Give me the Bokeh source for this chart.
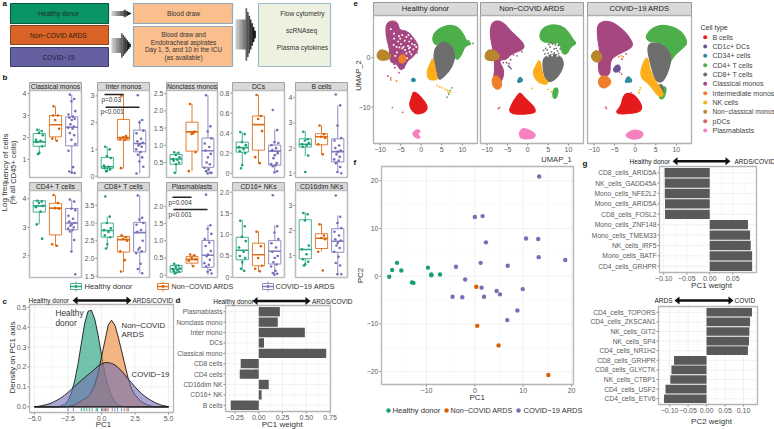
from bokeh.plotting import figure
from bokeh.models import Range1d
from bokeh.embed import file_html
from bokeh.resources import INLINE
from bokeh.core.properties import value

FONT = "Liberation Sans"
GREEN, ORANGE, PURPLE = "#1B9E77", "#D95F02", "#7570B3"
GROUPS = [GREEN, ORANGE, PURPLE]

# ---------- panel b data: each box = [low whisker, q1, median, q3, high whisker]
classical_box = [[1.23, 1.6, 1.8, 2.18, 2.4], [1.85, 2.03, 2.58, 3.0, 3.42], [0.37, 1.62, 2.47, 2.94, 3.95]]
classical_pts = [[2.35, 2.3, 2.2, 2.1, 1.9, 1.85, 1.8, 1.6, 1.3, 1.25], [3.42, 3.0, 2.8, 2.4, 1.95, 1.85, 3.0],
                 [3.95, 3.75, 3.65, 3.2, 3.05, 2.95, 2.9, 2.85, 2.8, 2.6, 2.5, 2.45, 2.4, 2.2, 2.1, 1.9, 1.7, 1.4, 0.65, 0.45, 0.38, 0.4]]
inter_box = [[0.16, 0.29, 0.35, 0.7, 1.1], [0.29, 1.35, 1.44, 2.12, 3.07], [0.1, 0.91, 1.22, 1.72, 2.1]]
inter_pts = [[1.1, 1.0, 0.75, 0.68, 0.4, 0.35, 0.3, 0.25, 0.2, 0.18], [3.0, 1.5, 1.45, 1.42, 1.38, 1.36, 0.3],
             [3.02, 2.1, 2.0, 1.7, 1.6, 1.4, 1.3, 1.25, 1.2, 1.15, 1.1, 1.0, 0.9, 0.8, 0.7, 0.55, 0.35, 0.1]]
nonclass_box = [[0.2, 0.45, 0.6, 0.73, 0.8], [0.25, 0.83, 1.39, 1.67, 2.2], [0.18, 0.36, 0.84, 1.21, 2.45]]
nonclass_pts = [[0.8, 0.78, 0.72, 0.65, 0.6, 0.58, 0.55, 0.5, 0.45, 0.2], [2.2, 1.4, 1.33, 0.8, 0.25, 1.35],
                [2.45, 1.55, 1.4, 1.2, 1.05, 0.95, 0.85, 0.75, 0.65, 0.5, 0.45, 0.35, 0.3, 0.25, 0.2, 0.18, 0.2]]
dc_box = [[0.08, 0.21, 0.255, 0.31, 0.41], [0.1, 0.23, 0.485, 0.57, 0.78], [0.0, 0.08, 0.22, 0.28, 0.435]]
dc_pts = [[0.41, 0.39, 0.31, 0.28, 0.26, 0.24, 0.22, 0.2, 0.08, 0.05], [0.78, 0.57, 0.54, 0.42, 0.16, 0.1],
          [0.63, 0.43, 0.31, 0.3, 0.28, 0.25, 0.23, 0.2, 0.18, 0.15, 0.1, 0.09, 0.08, 0.07, 0.02, 0.01]]
bcell_box = [[1.68, 2.04, 2.15, 2.37, 2.67], [1.75, 2.13, 2.45, 2.57, 2.9], [1.0, 1.45, 1.86, 2.37, 3.7]]
bcell_pts = [[2.65, 2.35, 2.3, 2.2, 2.15, 2.1, 2.05, 1.7, 1.05], [2.9, 2.55, 2.45, 2.4, 2.15, 1.75],
             [4.13, 3.7, 2.9, 2.4, 2.3, 2.1, 2.0, 1.9, 1.85, 1.75, 1.65, 1.55, 1.5, 1.4, 1.25, 1.05, 1.0]]
cd4_box = [[3.1, 3.53, 3.75, 3.93, 3.93], [2.33, 2.73, 3.67, 3.84, 4.13], [2.15, 2.91, 3.15, 3.66, 3.97]]
cd4_pts = [[3.93, 3.9, 3.85, 3.75, 3.7, 3.55, 3.1, 2.6], [4.13, 3.85, 3.67, 3.65, 2.4, 2.35],
           [3.97, 3.9, 3.65, 3.6, 3.4, 3.3, 3.2, 3.15, 3.1, 3.05, 3.0, 2.95, 2.9, 2.85, 2.55, 2.15, 1.35]]
cd8_box = [[2.28, 2.6, 2.79, 3.0, 3.18], [1.62, 2.18, 2.53, 2.62, 2.65], [1.58, 2.18, 2.73, 3.02, 3.78]]
cd8_pts = [[3.75, 3.18, 3.0, 2.85, 2.8, 2.75, 2.65, 2.6, 2.4, 2.28], [2.65, 2.6, 2.55, 2.5, 2.2, 1.95, 1.63],
           [3.78, 3.15, 3.1, 3.0, 2.95, 2.8, 2.75, 2.5, 2.3, 2.25, 2.2, 2.15, 1.85, 1.7, 1.58]]
plasma_box = [[0.04, 0.09, 0.18, 0.28, 0.33], [0.26, 0.35, 0.46, 0.54, 0.6], [0.0, 0.23, 0.58, 1.01, 1.45]]
plasma_pts = [[0.33, 0.28, 0.24, 0.2, 0.18, 0.15, 0.12, 0.1, 0.07, 0.05], [0.6, 0.58, 0.5, 0.46, 0.42, 0.26],
              [2.34, 1.45, 1.35, 1.2, 1.05, 0.95, 0.85, 0.7, 0.6, 0.55, 0.45, 0.35, 0.3, 0.25, 0.15, 0.1, 0.05]]
cd16_box = [[0.16, 0.41, 0.635, 0.94, 1.35], [0.13, 0.27, 0.53, 0.8, 1.08], [0.05, 0.31, 0.61, 0.86, 1.22]]
cd16_pts = [[1.33, 1.2, 0.95, 0.85, 0.7, 0.6, 0.5, 0.45, 0.35, 0.2, 0.15], [1.07, 0.73, 0.45, 0.27, 0.2, 0.14],
            [1.93, 1.2, 1.05, 0.9, 0.8, 0.7, 0.6, 0.5, 0.45, 0.35, 0.3, 0.25, 0.15, 0.1, 0.08, 0.06]]
cd16dim_box = [[0.57, 0.87, 1.24, 2.43, 2.73], [1.16, 1.28, 1.69, 1.87, 2.27], [0.23, 1.13, 1.57, 2.07, 2.6]]
cd16dim_pts = [[2.7, 2.65, 2.4, 1.4, 1.25, 1.05, 0.85, 0.75, 0.65, 0.6], [2.25, 1.8, 1.7, 1.65, 1.15, 0.4],
               [3.4, 2.55, 2.3, 2.1, 1.95, 1.8, 1.65, 1.6, 1.5, 1.4, 1.3, 1.15, 0.95, 0.7, 0.6, 0.25, 0.25]]
JITTER = [-0.12, 0.15, -0.02, 0.22, -0.2, 0.08, -0.15, 0.18, 0.0, -0.08, 0.12, -0.22, 0.05]

# ---------- panel c data
pc1_grid = [-5 + 0.25 * i for i in range(41)]
dens_healthy = [0] * 8 + [0.005, 0.012, 0.03, 0.07, 0.13, 0.215, 0.32, 0.42, 0.48, 0.485, 0.44, 0.36, 0.26, 0.17, 0.1, 0.055,
                          0.025, 0.01, 0.004, 0.001] + [0] * 13
dens_noncovid = [0] * 10 + [0.002, 0.005, 0.01, 0.02, 0.03, 0.04, 0.05, 0.075, 0.11, 0.17, 0.25, 0.33, 0.41, 0.435, 0.41, 0.35,
                            0.28, 0.21, 0.14, 0.09, 0.06, 0.04, 0.025, 0.015, 0.008, 0.003] + [0] * 5
dens_covid = [0.001, 0.002, 0.005, 0.009, 0.013, 0.019, 0.027, 0.036, 0.046, 0.058, 0.072, 0.088, 0.103, 0.118, 0.133, 0.147,
              0.161, 0.175, 0.19, 0.205, 0.215, 0.222, 0.222, 0.218, 0.21, 0.197, 0.18, 0.16, 0.14, 0.12, 0.1, 0.082, 0.066,
              0.052, 0.04, 0.03, 0.021, 0.014, 0.008, 0.004, 0.001]
rug_healthy = [-1.5, -1.3, -1.1, -0.9, -0.4, -0.3, 0.0]
rug_noncovid = [0.3, 0.5, 1.9]
rug_covid = [-2.5, -2.1, -0.7, 0.1, 0.2, 0.4, 0.8, 1.0, 1.2, 1.5, 1.7, 2.0]

# ---------- panel d data
d_labels = ["Plasmablasts", "Nonclass mono", "Inter mono", "DCs", "Classical mono", "CD8 cells", "CD4 cells", "CD16dim NK", "CD16+ NK", "B cells"]
d_values = [0.222, 0.2, 0.485, 0.055, 0.71, -0.19, -0.2, 0.105, 0.03, -0.295]

# ---------- panel e data: cluster outlines in UMAP coordinates, one list per cell type and donor group
CELL_TYPES = ["B cells", "CD1c+ DCs", "CD34+ cells", "CD4+ T cells", "CD8+ T cells", "Classical monos", "Intermediate monos",
              "NK cells", "Non\u2212classical monos", "pDCs", "Plasmablasts"]
CELL_COLORS = ["#E41A1C", "#6F5192", "#2F8AA0", "#4DAF4A", "#6E6E6E", "#A6487F", "#F07F2A", "#FDAE1A", "#B8862B", "#D9626B", "#F781BF"]
h_classical = [(-8.6, 7), (-6.6, 7.6), (-5.6, 6.8), (-5.3, 5.6), (-3.3, 5.4), (-1.2, 3.3), (-0.6, 1.8), (-2.1, 0.1), (-3.3, -0.5), (-4.1, -1.9), (-5, -2.6), (-5.9, -1.2), (-7.6, -0.9), (-7.6, 1.5), (-8.5, 4.2)]
h_nonclass = [(-10.9, 0.5), (-10, 1.7), (-8.6, 1.4), (-7.2, 0.5), (-8.2, -0.5), (-10.2, -0.5)]
h_inter = [(-5.5, 0), (-4.6, 0.8), (-3.5, 0), (-4.1, -1.1), (-5.3, -1)]
h_cd4 = [(2.6, 4), (3.8, 5.7), (6.7, 6.7), (8.9, 6.3), (10.4, 4.6), (10.9, 3.5), (12.4, 2.8), (10.6, 2.4), (9.8, 0.5), (8.4, -0.7), (7.9, 2.2), (6.3, 3.2), (4.7, 3.2), (3.4, 2.5)]
h_cd8 = [(3.4, 2.2), (5.5, 3.4), (7.6, 2.3), (8.3, 0.1), (7.2, -2.3), (5.2, -4.1), (4.2, -4.5), (3.7, -2.6), (3.0, -0.2)]
h_nk = [(2.9, 0.2), (3.7, -3.6), (4, -4.5), (1.8, -4.5), (1.3, -2.9), (2.2, -1.2)]
h_bcell = [(-1.9, -6.8), (-0.5, -7.5), (1.8, -10), (0.7, -11.2), (-1.5, -11.5), (-3, -9.7), (-2.3, -8)]
h_plasma = [(-2.3, -15.4), (-1, -14.5), (-0.1, -14.9), (-1, -15.4), (-0.1, -16.3), (-1.2, -16.3)]
h_cd34 = [(-2.4, -4.3), (-1.7, -4.1), (-1.3, -4.7), (-2.2, -4.9)]
n_classical = [(-8.9, 7), (-7.5, 7.6), (-5.8, 7), (-4.2, 5.4), (-0.9, 2.9), (-1, 1.7), (-4.3, 0.7), (-5.1, -0.3), (-7.3, -0.5), (-5.7, -2.6), (-6.5, -5.2), (-8.5, -4.3), (-8, -2.2), (-8.5, 1.5), (-9.3, 4.9)]
n_nonclass = [(-10.6, 0.5), (-9.7, 1.7), (-7.8, 1.4), (-6.7, 0.1), (-8.2, -0.6), (-10.2, -0.5)]
n_inter = [(-8.9, -4.3), (-7.5, -3.4), (-6.2, -5.3), (-7, -6.5), (-8.4, -6.1)]
n_cd4 = [(2.8, 4.1), (3.5, 6), (6, 6.8), (8.6, 6.4), (10.2, 5), (11.1, 3.7), (12, 2.9), (10.6, 2.3), (9.6, 0.7), (8.5, 0.8), (8, 2.8), (6, 3), (4, 3.1)]
n_cd8 = [(3.8, 0.2), (7, 0.9), (8.9, -0.5), (8.4, -2.7), (6.3, -4.8), (4.5, -4.8), (3.7, -2.2)]
n_nk = [(3, -0.1), (3.7, -3.9), (5.2, -5), (4.2, -5.5), (2.1, -4.7), (1.2, -2.9), (2.1, -1.5)]
n_bcell = [(-1.9, -7), (-1, -7.9), (2, -10.3), (1.6, -11.4), (-4.9, -11.5), (-3.7, -9), (-2.8, -8)]
n_plasma = [(-1.5, -14.5), (-0.6, -14.3), (2, -15.4), (1.5, -16.4), (-1.6, -16.5), (-2.2, -15.4)]
n_cd34 = [(-2.5, -4.6), (-1.8, -3.8), (-1.1, -4.7), (-2.4, -5.1)]
n_lowcd4 = [(6.3, -6.2), (7.6, -6.1), (7.1, -8.3), (6.1, -8.1)]
c_classical = [(-9.2, 7), (-6.2, 7.6), (-2.8, 5.6), (-0.7, 3.3), (-0.7, 2.1), (-4.1, 0.7), (-6.1, -0.3), (-6.1, -3.7), (-8.7, -3.7), (-9, -1.2), (-8.5, 0.8), (-9.2, 4.2)]
c_nonclass = [(-11, 0.3), (-9.4, 1.8), (-7.7, 0.1), (-9.4, -1.2)]
c_inter = [(-9, -4.3), (-7.4, -3.4), (-5.5, -4.9), (-7.4, -6.3), (-8.8, -5.7)]
c_cd1c = [(-5.4, -2.2), (-4.1, -1.2), (-3.4, -2.4), (-4.9, -3.1)]
c_cd34 = [(-2.4, -4.7), (-1.7, -3.6), (-0.5, -4.9), (-2.4, -5)]
c_cd4 = [(2.4, 4.2), (4, 6), (6.8, 6.8), (11, 5.7), (12.8, 3.2), (11.8, 2.1), (9.3, 0.4), (6.9, -3.3), (7.6, 1.5), (5.6, 3.2), (3.6, 3.2)]
c_cd8 = [(2.7, 2.8), (5.6, 3.1), (7.7, 1.9), (9, -0.2), (7.1, -4.8), (5.1, -5), (3.9, -1.9)]
c_nk = [(3, 0.6), (3.7, -3.2), (6.5, -6.6), (6.9, -7.8), (5.5, -7.8), (3.5, -5.4), (1.3, -4), (1.5, -1.9)]
c_lowcd4 = [(6.8, -5.7), (7.7, -6.2), (6.9, -8.5), (5.6, -8.1)]
c_lowcd8 = [(5.5, -5.5), (6.9, -5.5), (6.7, -7.7), (5.1, -6.4)]
c_bcell = [(-2.1, -7.1), (-0.1, -7.5), (1.9, -10), (0.8, -11.2), (-5.1, -11.5), (-3.4, -9.7), (-3, -8)]
c_plasma = [(-2.2, -15.4), (-0.1, -14.5), (2.1, -15.2), (1.5, -16.3), (-0.5, -16.6), (-2.2, -16)]
# stray cells
h_stray = {3: [(10.9, 3.2), (11.6, 3.4), (6.3, -8), (7, -6.6), (7.5, -6.1), (6.7, -7.4), (12.6, 2.9), (9.6, 4.9)],
           7: [(3.9, -5.6), (5.1, -6.1), (6.3, -6.6), (7.1, -7), (4.5, -5.9), (5.8, -6.4), (6.6, -7)],
           6: [(-7.4, -4.5), (-6, -4.7), (-6.4, 7.4), (-4.4, -0.3)], 1: [(-4.6, -1.6), (-4.2, -2), (-5, -1.4), (-3.9, -1.2)],
           5: [(-8.1, -3.7), (-6.4, -2), (-1, 1), (-6.6, -1.3), (-5.4, -3), (-7.3, 3.6)], 9: [(-7, -10.1), (-4.5, -11.1), (-7.4, -4.1)]}
n_stray = {7: [(1.1, -6.2), (5, -6.4), (5.8, -6.9)], 9: [(-6.9, -10.1), (-7.2, -10.3)], 1: [(-4.4, -1.9), (-4.1, -2.2), (-4.7, -1.7)],
           5: [(-3.5, 0.6), (-2.6, 0.4), (-6, -1), (-1.4, 1.2), (-4.2, -0.4), (-5.2, -1), (-4.6, -1.2)],
           4: [(5.5, 2.2), (6.5, 1.8), (4.8, 1.6), (7.3, 1.4), (6.1, 2.8), (5, 0.9), (7.6, 0.9), (4.2, 0.8), (6.8, 2.6), (8, 1.8), (5.8, 1.2), (4.4, 1.9), (7, 1.9), (5.2, 2.7), (3.9, 1.5), (6.5, 1), (5.7, 3.1), (7.5, 2.5)]}
c_stray = {7: [(1.1, -6.6), (0.9, -7.1), (1.3, -6.1)], 9: [(-7.2, -10), (-7, -10.3), (-1, -7.1)], 6: [(-3.4, 0.4), (-4, 0.2), (-2.9, 0.2)], 5: [(-2.2, 0.8), (-3.2, -0.3), (-3.8, -2.9), (-3.3, -3.3)]}
h_holes = [(-7.4, 5.8), (-6.6, 4.9), (-5.4, 4.4), (-4.6, 4.6), (-3.6, 4.2), (-2.9, 3.3), (-2.2, 2.8), (-4, 3.5), (-5.6, 3.3), (-6.7, 2.6), (-3.2, 2.4), (-1.9, 1.7), (-4.6, 1.9), (-2.8, 1.2), (-5.9, 1.1), (-3.6, 0.9), (-6.6, 3.9), (-4.9, 2.8), (-2.4, 3.9), (-3.9, 1.6),
           (-3.1, 4.6), (-1.6, 2.6), (-2.4, 0.7), (-3.4, -0.1), (-5.1, 3.9), (-4.3, 2.2), (-1.2, 2.2), (-5.3, 2.1), (-3, 1.9), (-6, 2.2), (-6.3, 0.4), (-2.7, 2.1)]
n_holes = [(4.6, 2.9), (5.3, 2.6), (6.4, 2.2), (7.2, 2.8), (4, 2.1), (5.8, 1.4), (6.9, 1.2), (7.7, 2.2), (4.4, 1.3), (5.2, 1.9), (6, 0.5), (7.3, 0.4), (4.9, 0.4)]

# ---------- panel f data
f_healthy_x = [-17.7, -17.1, -16.1, -15.2, -13, -12.7, -9.7, -9, -9, -7.2]
f_healthy_y = [-0.1, 1.3, 2.8, 1.2, -1.3, -1.4, 1.8, 0.2, 0.35, 0.35]
f_noncovid_x = [0.3, 0.5, 4.9, 15.2]
f_noncovid_y = [-2.2, -10.4, -14.5, -20.7]
f_covid_x = [13.3, 0, 1.6, 10.6, 13.1, 2.3, 13.2, 18.7, 1.2, 6.8, -3.9, -2, 1.4, 4.5, 5.2, 9.9, -4.6, -2.6, 1.9, 8.8, 6.7]
f_covid_y = [20.9, 12.4, 12.6, 7.9, 7.8, 7.1, 4, 3.4, 2.8, 2.2, 2, -0.7, -2.4, -3.1, -3.8, -2.7, -4.3, -4.4, -4.3, -7.2, -9.2]

# ---------- panel g data
g1_labels = ["CD8_cells_ARID5A", "NK_cells_GADD45A", "Mono_cells_NFE2L2", "Mono_cells_ARID5A", "CD8_cells_FOSL2", "Mono_cells_ZNF148", "Mono_cells_TMEM33", "NK_cells_IRF5", "Mono_cells_BATF", "CD4_cells_GRHPR"]
g1_values = [-0.098, -0.0975, -0.0975, -0.097, -0.097, 0.083, 0.0875, 0.089, 0.092, 0.092]
g2_labels = ["CD4_cells_TOPORS", "CD4_cells_ZKSCAN1", "NK_cells_GIT2", "NK_cells_SP4", "CD4_cells_NR1H2", "CD8_cells_GRHPR", "CD8_cells_GLYCTK", "NK_cells_CTBP1", "CD4_cells_USF2", "CD4_cells_ETV6"]
g2_values = [0.123, 0.118, 0.116, 0.115, 0.112, -0.088, -0.095, -0.098, -0.111, -0.115]

# ---------- one sheet: the base scales are page pixels, every panel adds its own named scales
W, H = 774, 429
bg = figure(width=W, height=H, x_range=Range1d(0, W), y_range=Range1d(H, 0), toolbar_location=None,
            x_axis_location=None, y_axis_location=None, output_backend="svg", min_border=0,
            outline_line_color=None, background_fill_color=None, border_fill_color="white", margin=(0, 0, 0, 0))
bg.grid.visible = False

_count = [0]


def rounded(poly, rounds=2):
    """Cut the corners of a read-off outline so that blobs look round."""
    for _ in range(rounds):
        out = []
        for k in range(len(poly)):
            (a, b), (c, d) = poly[k], poly[(k + 1) % len(poly)]
            out += [(0.75 * a + 0.25 * c, 0.75 * b + 0.25 * d), (0.25 * a + 0.75 * c, 0.25 * b + 0.75 * d)]
        poly = out
    return poly


class Panel:
    """A rectangle of the sheet with its own x and y scales (extra ranges of the figure)."""

    def __init__(self, x0, y0, x1, y1, xr, yr):
        self.x0, self.y0, self.x1, self.y1 = x0, y0, x1, y1
        self.xr, self.yr = xr, yr
        _count[0] += 1
        self.xn, self.yn = f"x{_count[0]}", f"y{_count[0]}"
        sx = (xr[1] - xr[0]) / (x1 - x0)
        sy = (yr[1] - yr[0]) / (y1 - y0)
        bg.extra_x_ranges[self.xn] = Range1d(xr[0] - x0 * sx, xr[1] + (W - x1) * sx)
        bg.extra_y_ranges[self.yn] = Range1d(yr[0] - (H - y1) * sy, yr[1] + y0 * sy)
        self.kw = {"x_range_name": self.xn, "y_range_name": self.yn}

    def frame(self, color="#B5B5B5", lw=1.3):
        bg.quad(left=[self.x0], right=[self.x1], top=[self.y0], bottom=[self.y1], fill_color=None, line_color=color, line_width=lw)

    def grid(self, xt=(), yt=(), xm=(), ym=()):
        for ticks, col, w in [(xm, "#F3F3F3", 0.5), (xt, "#EBEBEB", 0.7)]:
            if len(ticks):
                bg.segment(x0=list(ticks), x1=list(ticks), y0=[self.yr[0]] * len(ticks), y1=[self.yr[1]] * len(ticks), line_color=col, line_width=w, **self.kw)
        for ticks, col, w in [(ym, "#F3F3F3", 0.5), (yt, "#EBEBEB", 0.7)]:
            if len(ticks):
                bg.segment(y0=list(ticks), y1=list(ticks), x0=[self.xr[0]] * len(ticks), x1=[self.xr[1]] * len(ticks), line_color=col, line_width=w, **self.kw)

    def xaxis(self, ticks, labels, size=7):
        n = len(ticks)
        bg.segment(x0=ticks, x1=ticks, y0=[self.y1] * n, y1=[self.y1 + 2] * n, line_color="#444444", line_width=0.7, x_range_name=self.xn)
        bg.text(x=ticks, y=[self.y1 + 3] * n, text=labels, text_font=value(FONT), text_font_size=f"{size}px", text_color="#5A5A5A",
                text_align="center", text_baseline="top", x_range_name=self.xn)

    def yaxis(self, ticks, labels, size=7):
        n = len(ticks)
        bg.segment(y0=ticks, y1=ticks, x0=[self.x0] * n, x1=[self.x0 - 2] * n, line_color="#444444", line_width=0.7, y_range_name=self.yn)
        bg.text(y=ticks, x=[self.x0 - 3] * n, text=labels, text_font=value(FONT), text_font_size=f"{size}px", text_color="#5A5A5A",
                text_align="right", text_baseline="middle", y_range_name=self.yn)


def txt(x, y, s, size=7, color="#333333", align="left", angle=0, weight="normal"):
    bg.text(x=[x], y=[y], text=[s], text_font=value(FONT), text_font_size=f"{size}px", text_color=color,
            text_align=align, text_baseline="middle", angle=angle, text_font_style=weight)


def box(x0, y0, x1, y1, fill, line, lw=1.0):
    bg.quad(left=[x0], right=[x1], top=[y0], bottom=[y1], fill_color=fill, line_color=line, line_width=lw)


def grad_arrow(x0, x1, xh, yc, shaft, head):
    n = 14
    for i in range(n):
        a = x0 + (x1 - x0) * i / n
        b = x0 + (x1 - x0) * (i + 1) / n + 0.3
        g = int(205 - 195 * i / (n - 1))
        col = f"#{g:02x}{g:02x}{g:02x}"
        if a < xh:
            h = shaft
        else:
            h = head * (x1 - a) / (x1 - xh)
        bg.quad(left=[a], right=[b], top=[yc - h], bottom=[yc + h], fill_color=col, line_color=None)


def dbl_arrow(x0, x1, y):
    bg.quad(left=[x0 + 3], right=[x1 - 3], top=[y - 1.3], bottom=[y + 1.3], fill_color="#111111", line_color=None)
    bg.patch(x=[x0, x0 + 5, x0 + 5], y=[y, y - 4, y + 4], fill_color="#111111", line_color=None)
    bg.patch(x=[x1, x1 - 5, x1 - 5], y=[y, y - 4, y + 4], fill_color="#111111", line_color=None)


# panel a
box(10, 3, 108, 23, "#0B9468", "#0A5C40", 1.2)
box(10, 25, 108, 44, "#DA6427", "#8A4420", 1.0)
box(10, 47, 108, 66, "#65609F", "#3F3C6E", 1.0)
box(133, 3, 232, 23, "#FBBE8D", "#8FA9BE", 1.2)
box(133, 26, 232, 66, "#FBBE8D", "#8FA9BE", 1.2)
box(258, 3, 330, 66, "#EEF1E0", "#9DB9C8", 1.2)
grad_arrow(111, 130, 122, 13, 2.6, 4.5)
grad_arrow(111, 130, 120, 45, 7.5, 13)
grad_arrow(235, 255, 244, 34, 15, 29)
txt(58, 12.7, "Healthy donor", 6.6, "#1E2B24", "center")
txt(58, 35, "Non\u2212COVID ARDS", 6.6, "#2A1A10", "center")
txt(58, 57, "COVID\u221219", 6.6, "#1E1C3A", "center")
txt(183, 12.7, "Blood draw", 6.6, "#333333", "center")
for yy, s in zip([33.7, 41.5, 49.3, 57.3], ["Blood draw and", "Endotracheal aspirates", "Day 1, 5, and 10 in the ICU", "(as available)"]):
    txt(183, yy, s, 6.4, "#333333", "center")
txt(302, 12.7, "Flow cytometry", 6.6, "#333333", "center")
txt(301, 30, "scRNAseq", 6.6, "#333333", "center")
txt(302, 47, "Plasma cytokines", 6.6, "#333333", "center")

for lx, ly, s in [(2, 3, "a"), (2, 77, "b"), (2, 301, "c"), (175, 300, "d"), (353, 3, "e"), (353, 162, "f"), (582, 163, "g")]:
    txt(lx, ly, s, 8, "#111111", "left", 0, "bold")


def facet(title, x0, y0, x1, y1, yr, yticks, ylabels, boxes, pts):
    bg.quad(left=[x0], right=[x1], top=[y0 - 8], bottom=[y0], fill_color="#D9D9D9", line_color="#9A9A9A", line_width=0.9)
    txt((x0 + x1) / 2, y0 - 3.8, title, 6.8, "#222222", "center")
    p = Panel(x0, y0, x1, y1, (0.4, 3.6), yr)
    p.yaxis(yticks, ylabels)
    for i, (b, col) in enumerate(zip(boxes, GROUPS)):
        c = i + 1
        bg.segment(x0=[c, c], x1=[c, c], y0=[b[0], b[3]], y1=[b[1], b[4]], line_color=col, line_alpha=0.8, line_width=1, **p.kw)
        bg.quad(left=[c - 0.375], right=[c + 0.375], bottom=[b[1]], top=[b[3]], fill_color=None, line_color=col, line_alpha=0.8, line_width=1, **p.kw)
        bg.segment(x0=[c - 0.375], x1=[c + 0.375], y0=[b[2]], y1=[b[2]], line_color=col, line_width=1.6, line_alpha=0.9, **p.kw)
        ys = pts[i]
        xs = [c + JITTER[k % len(JITTER)] for k in range(len(ys))]
        bg.scatter(xs, ys, size=2.6, color=col, line_color=None, **p.kw)
    p.frame("#BDBDBD", 1.6)


row1y = (90, 177)
row2y = (190, 277)
c1, c2, c3, c4, c5 = (29, 81), (97, 149), (166, 217), (232, 284), (295, 347)
facet("Classical monos", c1[0], row1y[0], c1[1], row1y[1], (0.18, 4.14), [1, 2, 3, 4], ["1", "2", "3", "4"], classical_box, classical_pts)
facet("Inter monos", c2[0], row1y[0], c2[1], row1y[1], (-0.05, 3.2), [0, 1, 2, 3], ["0", "1", "2", "3"], inter_box, inter_pts)
facet("Nonclass monos", c3[0], row1y[0], c3[1], row1y[1], (0.065, 2.59), [0.5, 1, 1.5, 2, 2.5], ["0.5", "1.0", "1.5", "2.0", "2.5"], nonclass_box, nonclass_pts)
facet("DCs", c4[0], row1y[0], c4[1], row1y[1], (-0.043, 0.825), [0, 0.2, 0.4, 0.6, 0.8], ["0", "0.2", "0.4", "0.6", "0.8"], dc_box, dc_pts)
facet("B cells", c5[0], row1y[0], c5[1], row1y[1], (0.83, 4.29), [1, 2, 3, 4], ["1", "2", "3", "4"], bcell_box, bcell_pts)
facet("CD4+ T cells", c1[0], row2y[0], c1[1], row2y[1], (1.235, 4.29), [2, 3, 4], ["2", "3", "4"], cd4_box, cd4_pts)
facet("CD8+ T cells", c2[0], row2y[0], c2[1], row2y[1], (1.46, 3.92), [1.5, 2, 2.5, 3, 3.5], ["1.5", "2.0", "2.5", "3.0", "3.5"], cd8_box, cd8_pts)
facet("Plasmablasts", c3[0], row2y[0], c3[1], row2y[1], (-0.067, 2.46), [0, 0.5, 1, 1.5, 2], ["0", "0.5", "1.0", "1.5", "2.0"], plasma_box, plasma_pts)
facet("CD16+ NKs", c4[0], row2y[0], c4[1], row2y[1], (-0.007, 2.04), [0, 0.5, 1, 1.5, 2], ["0", "0.5", "1.0", "1.5", "2.0"], cd16_box, cd16_pts)
facet("CD16dim NKs", c5[0], row2y[0], c5[1], row2y[1], (0.12, 3.6), [1, 2, 3], ["1", "2", "3"], cd16dim_box, cd16dim_pts)

ANGLE = 1.5707963
txt(4.5, 172, "Log frequency of cells", 8, "#333333", "center", ANGLE)
txt(12.5, 172, "(% all CD45+ cells)", 7.5, "#333333", "center", ANGLE)
# p-value brackets
for x0_, x1_, y_, lab, tx, ty in [(104, 123, 94, "p=0.03", 101, 99), (105, 139, 106.7, "p<0.001", 100, 111),
                                  (172, 191, 196.7, "p=0.004", 168, 201.7), (173, 207, 209, "p<0.001", 168, 214)]:
    bg.segment(x0=[x0_], x1=[x1_], y0=[y_], y1=[y_], line_color="#222222", line_width=1.4)
    txt(tx, ty, lab, 6.4, "#333333")
# shared legend of panel b
for kx, col, tx, s, sz in [(70, GREEN, 84, "Healthy donor", 7.7), (157, ORANGE, 171, "Non\u2212COVID ARDS", 7.2), (262, PURPLE, 275, "COVID\u221219 ARDS", 7.5)]:
    bg.segment(x0=[kx + 5.5], x1=[kx + 5.5], y0=[281], y1=[291], line_color=col, line_alpha=0.8, line_width=1)
    bg.quad(left=[kx], right=[kx + 11], top=[283], bottom=[289], fill_color="white", line_color=col, line_alpha=0.8, line_width=1)
    bg.segment(x0=[kx], x1=[kx + 11], y0=[286], y1=[286], line_color=col, line_width=1.4, line_alpha=0.9)
    bg.scatter([kx + 5.5], [286], size=2.8, color=col, line_color=None)
    txt(tx, 286, s, sz, "#333333")

# panel c
c_tx = [-5, -2.5, 0, 2.5, 5]
c_ty = [0, 0.1, 0.2, 0.3, 0.4, 0.5]
pc = Panel(29, 304, 173, 412, (-5.37, 5.37), (-0.0286, 0.514))
pc.grid(c_tx, c_ty, [-3.75, -1.25, 1.25, 3.75], [0.05, 0.15, 0.25, 0.35, 0.45])
pc.xaxis(c_tx, ["\u22125.0", "\u22122.5", "0.0", "2.5", "5.0"])
pc.yaxis(c_ty, ["0.0", "0.1", "0.2", "0.3", "0.4", "0.5"])
for dens, col, alpha in [(dens_healthy, GREEN, 0.62), (dens_noncovid, "#E8802A", 0.58), (dens_covid, PURPLE, 0.62)]:
    bg.patch(pc1_grid + [5, -5], dens + [0, 0], fill_color=col, fill_alpha=alpha, line_color="#1A1A1A", line_width=0.9, **pc.kw)
for rug, col in [(rug_healthy, GREEN), (rug_noncovid, ORANGE), (rug_covid, PURPLE)]:
    bg.segment(x0=rug, x1=rug, y0=[-0.022] * len(rug), y1=[-0.007] * len(rug), line_color=col, line_width=0.9, **pc.kw)
pc.frame()
txt(55, 312, "Healthy", 8.3)
txt(55, 322, "donor", 8.3)
txt(121, 325, "Non\u2212COVID", 7.8)
txt(121, 333.5, "ARDS", 8)
txt(131, 374, "COVID\u221219", 7.8)
txt(12, 357, "Density on PC1 axis", 8, "#333333", "center", ANGLE)
txt(103, 424, "PC1", 8, "#333333", "center")
txt(28, 300, "Healthy donor", 6.5, "#222222")
dbl_arrow(72, 131, 300)
txt(132, 300, "ARDS/COVID", 6.5, "#222222")


def bars(x0, y0, x1, y1, xr, labels, vals, xticks, xlabels, x_minor):
    p = Panel(x0, y0, x1, y1, xr, (10.6, 0.4))
    pos = list(range(1, len(labels) + 1))
    p.grid(xticks, pos, x_minor)
    p.xaxis(xticks, xlabels)
    p.yaxis(pos, labels, 6.7)
    bg.hbar(y=pos, right=vals, left=0, height=0.9, fill_color="#595959", line_color=None, **p.kw)
    p.frame()


# panel d
bars(225, 305, 330, 411, (-0.35, 0.755), d_labels, d_values, [-0.25, 0, 0.25, 0.5, 0.75], ["\u22120.25", "0.00", "0.25", "0.50", "0.75"],
     [-0.125, 0.125, 0.375, 0.625])
txt(281.7, 424, "PC1 weight", 8, "#333333", "center")
txt(212.7, 300.5, "Healthy donor", 6.5, "#222222")
dbl_arrow(252, 310, 300.5)
txt(311.5, 300.5, "ARDS/COVID", 6.5, "#222222")


# panel e
def umap(title, x0, x1, outlines, stray, holes, first):
    bg.quad(left=[x0], right=[x1], top=[2], bottom=[15], fill_color="#D9D9D9", line_color="#9A9A9A", line_width=1)
    txt((x0 + x1) / 2, 8.3, title, 7.6, "#222222", "center")
    p = Panel(x0, 15, x1, 143, (-11.6, 13.7), (-17.4, 8.58))
    p.xaxis([-10, -5, 0, 5, 10], ["\u221210", "\u22125", "0", "5", "10"])
    if first:
        p.yaxis([0, -10], ["0", "\u221210"])
    for idx, poly in outlines:
        shape = rounded(poly)
        bg.patch([a for a, _ in shape], [b for _, b in shape], fill_color=CELL_COLORS[idx], line_color=CELL_COLORS[idx], line_width=1.2, **p.kw)
    if holes:
        bg.scatter([a for a, _ in holes], [b for _, b in holes], size=1.7, marker="square", color="white", line_color=None, **p.kw)
    for idx, pts in stray.items():
        bg.scatter([a for a, _ in pts], [b for _, b in pts], size=1.8, color=CELL_COLORS[idx], line_color=None, **p.kw)
    p.frame("#B0B0B0", 1.3)


umap("Healthy donor", 373, 477, [(3, h_cd4), (4, h_cd8), (7, h_nk), (5, h_classical), (8, h_nonclass), (6, h_inter), (0, h_bcell), (10, h_plasma), (2, h_cd34)], h_stray, h_holes, True)
umap("Non\u2212COVID ARDS", 480, 583, [(3, n_cd4), (4, n_cd8), (3, n_lowcd4), (7, n_nk), (5, n_classical), (8, n_nonclass), (6, n_inter), (0, n_bcell), (10, n_plasma), (2, n_cd34)], n_stray, n_holes, False)
umap("COVID\u221219 ARDS", 587, 691, [(3, c_cd4), (4, c_cd8), (3, c_lowcd4), (4, c_lowcd8), (7, c_nk), (5, c_classical), (8, c_nonclass), (6, c_inter), (1, c_cd1c), (0, c_bcell), (10, c_plasma), (2, c_cd34)], c_stray, None, False)
txt(556, 159, "UMAP_1", 7.6, "#333333", "center")
txt(358, 75, "UMAP_2", 7.6, "#333333", "center", ANGLE)
txt(700, 26.7, "Cell type", 7, "#333333")
for i, (name, col) in enumerate(zip(CELL_TYPES, CELL_COLORS)):
    yy = 36.7 + i * 9.33
    bg.scatter([704.7], [yy], size=4, color=col, line_color=None)
    txt(712, yy, name, 6.6 if i == 8 else 7, "#444444")

# panel f
pf = Panel(381, 166, 573, 384, (-19.3, 20.4), (-22.7, 23))
pf.grid([-10, 0, 10, 20], [-20, -10, 0, 10, 20], [-15, -5, 5, 15], [-15, -5, 5, 15])
pf.xaxis([-10, 0, 10, 20], ["\u221210", "0", "10", "20"])
pf.yaxis([-20, -10, 0, 10, 20], ["\u221220", "\u221210", "0", "10", "20"])
for xs, ys, col in [(f_healthy_x, f_healthy_y, GREEN), (f_noncovid_x, f_noncovid_y, ORANGE), (f_covid_x, f_covid_y, PURPLE)]:
    bg.scatter(xs, ys, size=4.4, color=col, line_color=None, **pf.kw)
pf.frame()
txt(476.7, 397, "PC1", 8, "#333333", "center")
txt(360, 275, "PC2", 8, "#333333", "center", ANGLE)
for dx, col, tx, s, sz in [(388, GREEN, 392, "Healthy donor", 7.7), (446, ORANGE, 450, "Non\u2212COVID ARDS", 7.2), (518, PURPLE, 523, "COVID\u221219 ARDS", 7.5)]:
    bg.scatter([dx], [410], size=4.4, color=col, line_color=None)
    txt(tx, 410, s, sz, "#333333")

# panel g
bars(659, 166, 756, 272, (-0.109, 0.1015), g1_labels, g1_values, [-0.1, -0.05, 0, 0.05], ["\u22120.10", "\u22120.05", "0.00", "0.05"],
     [-0.075, -0.025, 0.025, 0.075])
txt(711, 285, "PC1 weight", 8, "#333333", "center")
txt(629, 160.7, "Healthy donor", 6.5, "#222222")
dbl_arrow(672, 730, 160.7)
txt(734, 160.7, "ARDS/COVID", 6.5, "#222222")
bars(658, 306, 757, 404, (-0.13, 0.138), g2_labels, g2_values, [-0.1, -0.05, 0, 0.05, 0.1], ["\u22120.10", "\u22120.05", "0.00", "0.05", "0.10"],
     [-0.075, -0.025, 0.025, 0.075])
txt(711, 421, "PC2 weight", 8, "#333333", "center")
txt(654, 300, "ARDS", 6.5, "#222222")
dbl_arrow(674, 733, 300)
txt(734, 300, "COVID", 6.5, "#222222")

open("out.html", "w").write(file_html(bg, INLINE))
